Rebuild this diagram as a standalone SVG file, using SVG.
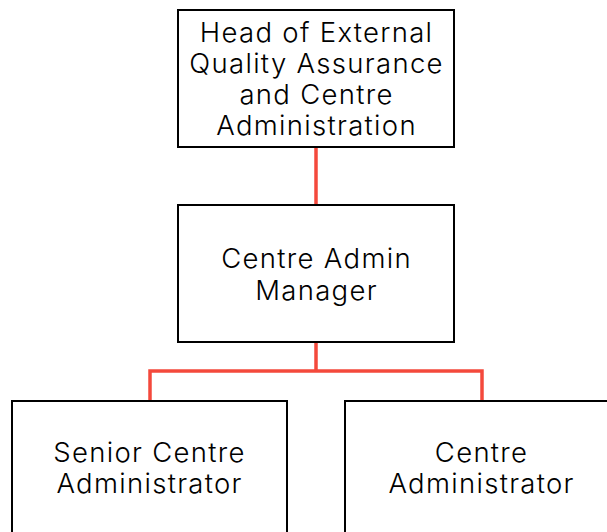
<svg xmlns="http://www.w3.org/2000/svg" width="607" height="532" viewBox="0 0 607 532">
  <style>
    .box { fill: #ffffff; stroke: #000000; stroke-width: 2; }
    .lbl { font-family: "Inter", "Open Sans", "Liberation Sans", sans-serif; font-size: 27.5px; font-weight: 350; letter-spacing: 1.3px; fill: #000000; text-anchor: middle; }
    .link { fill: none; stroke: #f4493c; stroke-width: 3.5; }
  </style>
  <rect width="607" height="532" fill="#ffffff"/>

  <g id="connectors">
    <path class="link" d="M316 147 V205"/>
    <path class="link" d="M316 342 V371 M150 371 H482 M150 369.25 V401 M482 369.25 V401"/>
  </g>

  <g id="head-eqa">
    <rect class="box" x="178" y="10" width="276" height="137"/>
    <text class="lbl" x="316.6" y="41.5">Head of External</text>
    <text class="lbl" x="316.6" y="72.5">Quality Assurance</text>
    <text class="lbl" x="316.6" y="103.5">and Centre</text>
    <text class="lbl" x="316.6" y="134.5">Administration</text>
  </g>

  <g id="admin-manager">
    <rect class="box" x="178" y="205" width="276" height="137"/>
    <text class="lbl" x="316.6" y="267.5">Centre Admin</text>
    <text class="lbl" x="316.6" y="299.5">Manager</text>
  </g>

  <g id="senior-admin">
    <rect class="box" x="12" y="401" width="275" height="140"/>
    <text class="lbl" x="149.6" y="461.5">Senior Centre</text>
    <text class="lbl" x="149.6" y="493">Administrator</text>
  </g>

  <g id="centre-admin">
    <rect class="box" x="345" y="401" width="275" height="140"/>
    <text class="lbl" x="481.6" y="461.5">Centre</text>
    <text class="lbl" x="481.6" y="493">Administrator</text>
  </g>
</svg>
